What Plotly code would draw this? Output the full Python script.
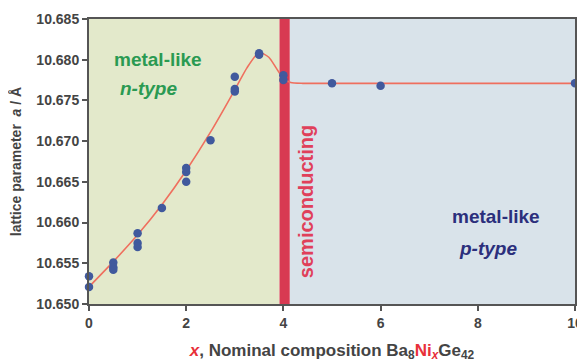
import plotly.graph_objects as go

# measured data points (x, lattice parameter in Å)
x_pts = [0, 0, 0.5, 0.5, 0.5, 1, 1, 1, 1.5, 2, 2, 2, 2.5, 3, 3, 3, 3.5, 3.5, 4, 4, 5, 6, 10]
a_pts = [10.6534, 10.6521, 10.6551, 10.6545, 10.6542, 10.6587, 10.6575, 10.6570, 10.6618,
         10.6667, 10.6662, 10.6650, 10.6701, 10.6779, 10.6764, 10.6761, 10.6808, 10.6806,
         10.6781, 10.6775, 10.6771, 10.6768, 10.6771]

# guide-to-the-eye curve
fit_x = [0, 0.5, 1, 1.5, 2, 2.5, 3, 3.25, 3.5, 3.7, 3.85, 4.0, 4.15, 4.4, 5, 10]
fit_a = [10.6521, 10.6552, 10.6585, 10.6622, 10.6664, 10.6711, 10.6763, 10.6790, 10.6809,
         10.6803, 10.6790, 10.6777, 10.6772, 10.6771, 10.6771, 10.6771]

# region boundaries
band_x0 = 3.92
band_x1 = 4.13
x_min, x_max = 0, 10
y_min, y_max = 10.650, 10.685

x_ticks = [0, 2, 4, 6, 8, 10]
y_ticks = [10.650, 10.655, 10.660, 10.665, 10.670, 10.675, 10.680, 10.685]

fig = go.Figure()

fig.add_trace(go.Scatter(x=fit_x, y=fit_a, mode="lines",
                         line=dict(color="#ef6f5e", width=1.6, shape="spline", smoothing=0.6),
                         hoverinfo="skip", showlegend=False, cliponaxis=True))
fig.add_trace(go.Scatter(x=x_pts, y=a_pts, mode="markers", marker=dict(color="#40599d", size=8.5),
                         showlegend=False, cliponaxis=False))

fig.add_shape(type="rect", xref="x", yref="y", x0=x_min, x1=band_x0, y0=y_min, y1=y_max,
              fillcolor="#e3e9cb", line_width=0, layer="below")
fig.add_shape(type="rect", xref="x", yref="y", x0=band_x1, x1=x_max, y0=y_min, y1=y_max,
              fillcolor="#d9e3ea", line_width=0, layer="below")
fig.add_shape(type="rect", xref="x", yref="y", x0=band_x0, x1=band_x1, y0=y_min, y1=y_max,
              fillcolor="#d83a52", line_width=0, layer="below")

font_family = "Liberation Sans, Arial, sans-serif"
green = "#2a9a52"
navy = "#2b2f7c"
ann_size = 19

fig.add_annotation(x=1.41, y=10.6800, text="metal-like", showarrow=False,
                   font=dict(family=font_family, size=ann_size, color=green, weight="bold"))
fig.add_annotation(x=1.23, y=10.6765, text="<i>n-type</i>", showarrow=False,
                   font=dict(family=font_family, size=ann_size, color=green, weight="bold"))
fig.add_annotation(x=4.48, y=10.6626, text="semiconducting", showarrow=False, textangle=-90,
                   font=dict(family=font_family, size=20, color="#e0405a", weight="bold"))
fig.add_annotation(x=8.37, y=10.6607, text="metal-like", showarrow=False,
                   font=dict(family=font_family, size=ann_size, color=navy, weight="bold"))
fig.add_annotation(x=8.2, y=10.6568, text="<i>p-type</i>", showarrow=False,
                   font=dict(family=font_family, size=ann_size, color=navy, weight="bold"))

axis_common = dict(showgrid=False, zeroline=False, showline=True, linecolor="#555555", linewidth=2,
                   mirror=True, ticks="outside", ticklen=5, tickwidth=1.5, tickcolor="#555555",
                   automargin=False, ticklabeloverflow="allow",
                   tickfont=dict(family=font_family, size=14, color="#444444", weight="bold"))

fig.update_xaxes(range=[x_min, x_max], tickvals=x_ticks, **axis_common,
                 title=dict(text="<span style='color:#e8303a'><i>x</i></span>, Nominal composition Ba<sub>8</sub><span style='color:#e8303a'>Ni<sub><i>x</i></sub></span>Ge<sub>42</sub>",
                            font=dict(family=font_family, size=17, color="#444444", weight="bold"), standoff=14))
fig.update_yaxes(range=[y_min, y_max], tickvals=y_ticks, tickformat=".3f", **axis_common,
                 title=dict(text="lattice parameter  <i>a</i> / Å",
                            font=dict(family=font_family, size=14, color="#444444", weight="bold"), standoff=12))

# page body adds an 8px offset, so the figure is sized to fit the 585x363 window
fig.update_layout(width=577, height=355, margin=dict(l=81, r=10, t=11, b=59),
                  paper_bgcolor="white", plot_bgcolor="white")

fig.write_html("out.html")
